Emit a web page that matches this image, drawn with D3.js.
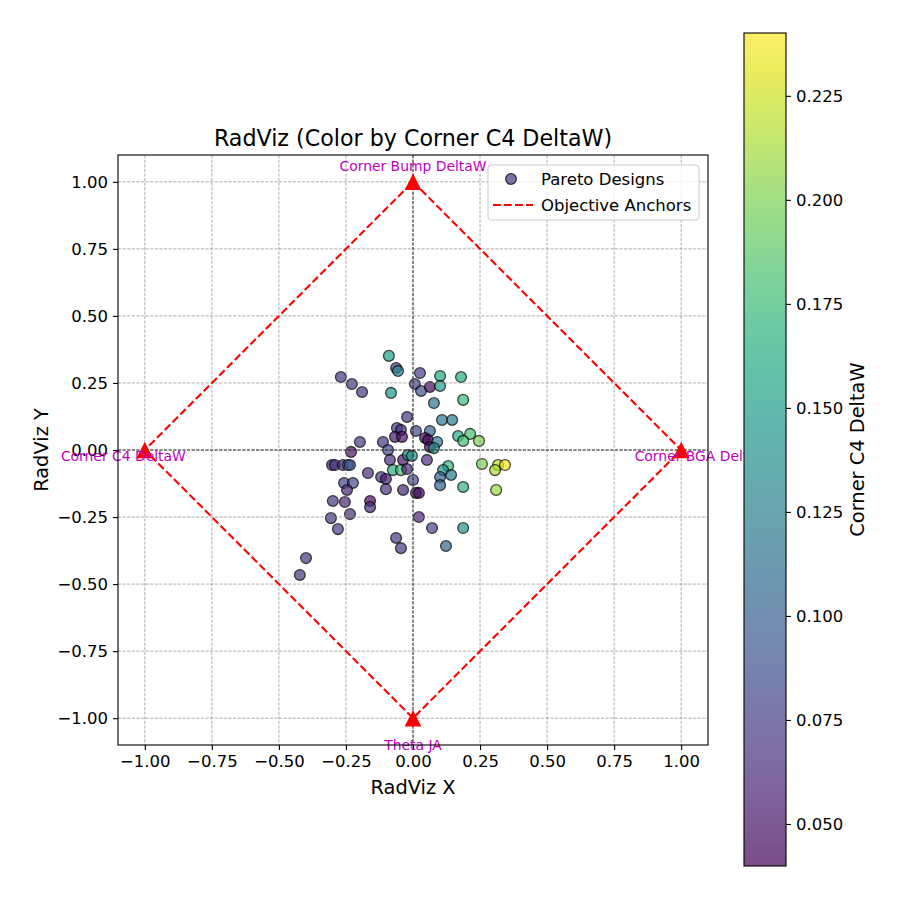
<!DOCTYPE html>
<html>
<head>
<meta charset="utf-8">
<script src="https://cdn.jsdelivr.net/npm/d3@7"></script>
<style>
  body { margin: 0; background: #fff; }
  text { font-family: 'DejaVu Sans', sans-serif; }
</style>
</head>
<body>
<script>

// radviz coordinates of the pareto designs
let xs = [-0.090, -0.063, -0.056, 0.026, -0.269, -0.228, -0.190, -0.082, 0.007, 0.030,
  0.063, 0.101, 0.179, 0.101, 0.187, 0.078, -0.022, 0.108, 0.146, -0.060,
  -0.045, -0.067, -0.041, 0.011, 0.063, 0.045, 0.056, 0.090, 0.063, 0.078,
  0.168, 0.213, 0.187, 0.246, -0.198, -0.112, -0.231, -0.302, -0.291, -0.261,
  -0.243, -0.235, -0.168, -0.119, -0.101, -0.093, -0.086, -0.075, -0.045, -0.037,
  -0.019, -0.004, 0.000, -0.037, 0.011, 0.022, 0.052, 0.131, 0.112, 0.142,
  0.101, 0.101, 0.187, 0.257, 0.317, 0.343, 0.306, 0.310, 0.022, 0.071,
  0.187, 0.123, -0.063, -0.045, -0.257, -0.224, -0.246, -0.101, -0.299, -0.254,
  -0.160, -0.160, -0.235, -0.306, -0.280, -0.399, -0.422, -0.022]

let ys = [0.351, 0.306, 0.295, 0.287, 0.272, 0.246, 0.216, 0.213, 0.246, 0.220,
  0.235, 0.276, 0.272, 0.239, 0.187, 0.175, 0.123, 0.112, 0.112, 0.082,
  0.075, 0.049, 0.049, 0.071, 0.071, 0.045, 0.037, 0.030, 0.011, 0.007,
  0.052, 0.060, 0.034, 0.034, 0.030, 0.030, -0.007, -0.056, -0.056, -0.056,
  -0.056, -0.056, -0.086, -0.101, -0.108, 0.000, -0.037, -0.075, -0.075, -0.037,
  -0.019, -0.022, -0.112, -0.149, -0.160, -0.160, -0.037, -0.060, -0.075, -0.093,
  -0.101, -0.131, -0.138, -0.052, -0.056, -0.056, -0.075, -0.149, -0.250, -0.291,
  -0.291, -0.358, -0.328, -0.366, -0.123, -0.123, -0.149, -0.146, -0.190, -0.194,
  -0.190, -0.213, -0.239, -0.254, -0.295, -0.403, -0.466, -0.071]

// corner C4 deltaW of each design (colour)
let deltaW = [0.150, 0.080, 0.130, 0.075, 0.070, 0.070, 0.070, 0.145, 0.075, 0.090,
  0.045, 0.160, 0.160, 0.150, 0.175, 0.115, 0.070, 0.120, 0.120, 0.075,
  0.065, 0.050, 0.050, 0.080, 0.100, 0.045, 0.045, 0.120, 0.045, 0.140,
  0.160, 0.180, 0.180, 0.200, 0.070, 0.070, 0.050, 0.060, 0.070, 0.065,
  0.100, 0.090, 0.065, 0.070, 0.055, 0.085, 0.065, 0.165, 0.180, 0.050,
  0.140, 0.145, 0.085, 0.060, 0.065, 0.045, 0.065, 0.170, 0.140, 0.120,
  0.100, 0.100, 0.170, 0.200, 0.220, 0.235, 0.215, 0.210, 0.060, 0.080,
  0.140, 0.105, 0.070, 0.070, 0.080, 0.085, 0.060, 0.065, 0.070, 0.060,
  0.045, 0.065, 0.065, 0.070, 0.075, 0.070, 0.070, 0.060]

let anchorNames = ['Corner BGA DeltaW', 'Corner Bump DeltaW', 'Corner C4 DeltaW', 'Theta JA']
let anchorX = [1, 0, -1, 0]
let anchorY = [0, 1, 0, -1]

let axisTicks = [-1, -0.75, -0.5, -0.25, 0, 0.25, 0.5, 0.75, 1]
let colorTicks = [0.05, 0.075, 0.1, 0.125, 0.15, 0.175, 0.2, 0.225]
let colorRange = [0.0399, 0.2401]

let width = 900,
  height = 900

let plot = { left: 118, top: 155, size: 590 }
let bar = { left: 744, top: 33, width: 42, height: 833 }

let svg = d3.select('body')
  .append('svg')
  .attr('width', width)
  .attr('height', height)
  .style('background', '#fff')

let x = d3.scaleLinear().domain([-1.1, 1.1]).range([plot.left, plot.left + plot.size])
let y = d3.scaleLinear().domain([-1.1, 1.1]).range([plot.top + plot.size, plot.top])

let colorScale = d3.scaleSequential(d3.interpolateViridis).domain(colorRange)

let points = xs.map((v, i) => ({ x: v, y: ys[i], c: deltaW[i] }))

// axes with outward ticks
let xAxis = svg.append('g')
  .attr('transform', `translate(0, ${plot.top + plot.size})`)
  .call(d3.axisBottom(x).tickValues(axisTicks).tickFormat(d3.format('.2f')).tickSize(5).tickPadding(5))
let yAxis = svg.append('g')
  .attr('transform', `translate(${plot.left}, 0)`)
  .call(d3.axisLeft(y).tickValues(axisTicks).tickFormat(d3.format('.2f')).tickSize(5).tickPadding(5))

;[xAxis, yAxis].forEach(a => {
  a.select('.domain').remove()
  a.selectAll('.tick line').attr('stroke', '#000').attr('stroke-width', 1.1)
  a.selectAll('.tick text')
    .attr('font-size', '16.5px')
    .attr('font-family', "'DejaVu Sans', sans-serif")
    .attr('fill', '#000')
    .text(d => d3.format('.2f')(d).replace('-', '\u2212'))
})

let chart = svg.append('g')

chart.selectAll('circle.pt')
  .data(points)
  .enter()
  .append('circle')
  .attr('class', 'pt')
  .attr('cx', d => x(d.x))
  .attr('cy', d => y(d.y))
  .attr('r', 5.4)
  .attr('fill', d => colorScale(d.c))
  .attr('fill-opacity', 0.7)
  .attr('stroke', '#000')
  .attr('stroke-opacity', 0.7)
  .attr('stroke-width', 1.3)

// grid
let grid = chart.append('g')
axisTicks.forEach(t => {
  grid.append('line')
    .attr('x1', x(t)).attr('x2', x(t))
    .attr('y1', plot.top).attr('y2', plot.top + plot.size)
  grid.append('line')
    .attr('x1', plot.left).attr('x2', plot.left + plot.size)
    .attr('y1', y(t)).attr('y2', y(t))
})
grid.selectAll('line')
  .attr('stroke', '#808080')
  .attr('stroke-width', 0.65)
  .attr('stroke-dasharray', '3.2,1.4')

// zero lines
chart.append('line')
  .attr('x1', plot.left).attr('x2', plot.left + plot.size)
  .attr('y1', y(0)).attr('y2', y(0))
  .attr('stroke', '#000').attr('stroke-width', 0.75).attr('stroke-dasharray', '3.2,1.4')
chart.append('line')
  .attr('x1', x(0)).attr('x2', x(0))
  .attr('y1', plot.top).attr('y2', plot.top + plot.size)
  .attr('stroke', '#000').attr('stroke-width', 0.75).attr('stroke-dasharray', '3.2,1.4')

// anchor polygon
let anchors = anchorNames.map((n, i) => ({ name: n, x: anchorX[i], y: anchorY[i] }))
let ring = [anchors[1], anchors[0], anchors[3], anchors[2], anchors[1]]

chart.append('path')
  .datum(ring)
  .attr('d', d3.line().x(d => x(d.x)).y(d => y(d.y)))
  .attr('fill', 'none')
  .attr('stroke', '#ff0000')
  .attr('stroke-width', 2.1)
  .attr('stroke-dasharray', '7.7,3.3')

chart.selectAll('path.anchor')
  .data(anchors)
  .enter()
  .append('path')
  .attr('class', 'anchor')
  .attr('transform', d => `translate(${x(d.x)}, ${y(d.y)})`)
  .attr('d', 'M0,-8.3L8.3,8.3L-8.3,8.3Z')
  .attr('fill', '#ff0000')

chart.selectAll('text.anchor')
  .data(anchors)
  .enter()
  .append('text')
  .attr('class', 'anchor')
  .attr('x', d => x(d.x * 1.08))
  .attr('y', d => y(d.y * 1.08) + 10.5)
  .attr('text-anchor', 'middle')
  .attr('font-size', '13.9px')
  .attr('fill', '#bf00bf')
  .text(d => d.name)

// frame
svg.append('rect')
  .attr('x', plot.left)
  .attr('y', plot.top)
  .attr('width', plot.size)
  .attr('height', plot.size)
  .attr('fill', 'none')
  .attr('stroke', '#000')
  .attr('stroke-width', 1.1)

svg.append('text')
  .attr('x', plot.left + plot.size / 2)
  .attr('y', 146)
  .attr('text-anchor', 'middle')
  .attr('font-size', '22.2px')
  .text('RadViz (Color by Corner C4 DeltaW)')

svg.append('text')
  .attr('x', plot.left + plot.size / 2)
  .attr('y', 794)
  .attr('text-anchor', 'middle')
  .attr('font-size', '19.4px')
  .text('RadViz X')

svg.append('text')
  .attr('transform', `translate(48, ${plot.top + plot.size / 2}) rotate(-90)`)
  .attr('text-anchor', 'middle')
  .attr('font-size', '19.4px')
  .text('RadViz Y')

// legend
let legend = svg.append('g')
  .attr('transform', 'translate(488, 165)')

legend.append('rect')
  .attr('width', 211)
  .attr('height', 55)
  .attr('rx', 3)
  .attr('fill', '#fff')
  .attr('fill-opacity', 0.8)
  .attr('stroke', '#cccccc')

legend.append('circle')
  .attr('cx', 23)
  .attr('cy', 14)
  .attr('r', 5.4)
  .attr('fill', colorScale(0.07))
  .attr('fill-opacity', 0.7)
  .attr('stroke', '#000')
  .attr('stroke-opacity', 0.7)
  .attr('stroke-width', 1.3)

legend.append('line')
  .attr('x1', 5).attr('x2', 45)
  .attr('y1', 40).attr('y2', 40)
  .attr('stroke', '#ff0000')
  .attr('stroke-width', 2.1)
  .attr('stroke-dasharray', '7.7,3.3')

legend.append('text')
  .attr('x', 53)
  .attr('y', 20)
  .attr('font-size', '16.5px')
  .text('Pareto Designs')

legend.append('text')
  .attr('x', 53)
  .attr('y', 46)
  .attr('font-size', '16.5px')
  .text('Objective Anchors')

// colorbar (white backing hides the label running under it)
let cy = d3.scaleLinear().domain(colorRange).range([bar.top + bar.height, bar.top])

let defs = svg.append('defs')
let grad = defs.append('linearGradient')
  .attr('id', 'cbar')
  .attr('x1', 0).attr('y1', 1)
  .attr('x2', 0).attr('y2', 0)
d3.range(0, 1.0001, 0.05).forEach(t => {
  grad.append('stop')
    .attr('offset', t)
    .attr('stop-color', d3.interpolateViridis(t))
})

svg.append('rect')
  .attr('x', bar.left)
  .attr('y', bar.top)
  .attr('width', bar.width)
  .attr('height', bar.height)
  .attr('fill', '#fff')

svg.append('rect')
  .attr('x', bar.left)
  .attr('y', bar.top)
  .attr('width', bar.width)
  .attr('height', bar.height)
  .attr('fill', 'url(#cbar)')
  .attr('fill-opacity', 0.7)

svg.append('rect')
  .attr('x', bar.left)
  .attr('y', bar.top)
  .attr('width', bar.width)
  .attr('height', bar.height)
  .attr('fill', 'none')
  .attr('stroke', '#000')
  .attr('stroke-width', 1.1)

let cAxis = svg.append('g')
  .attr('transform', `translate(${bar.left + bar.width}, 0)`)
  .call(d3.axisRight(cy).tickValues(colorTicks).tickFormat(d3.format('.3f')).tickSize(5).tickPadding(5))
cAxis.select('.domain').remove()
cAxis.selectAll('.tick line').attr('stroke', '#000').attr('stroke-width', 1.1)
cAxis.selectAll('.tick text')
  .attr('font-size', '16.5px')
  .attr('font-family', "'DejaVu Sans', sans-serif")
  .attr('fill', '#000')

svg.append('text')
  .attr('transform', `translate(864, ${bar.top + bar.height / 2}) rotate(-90)`)
  .attr('text-anchor', 'middle')
  .attr('font-size', '19.4px')
  .text('Corner C4 DeltaW')

</script>
</body>
</html>
